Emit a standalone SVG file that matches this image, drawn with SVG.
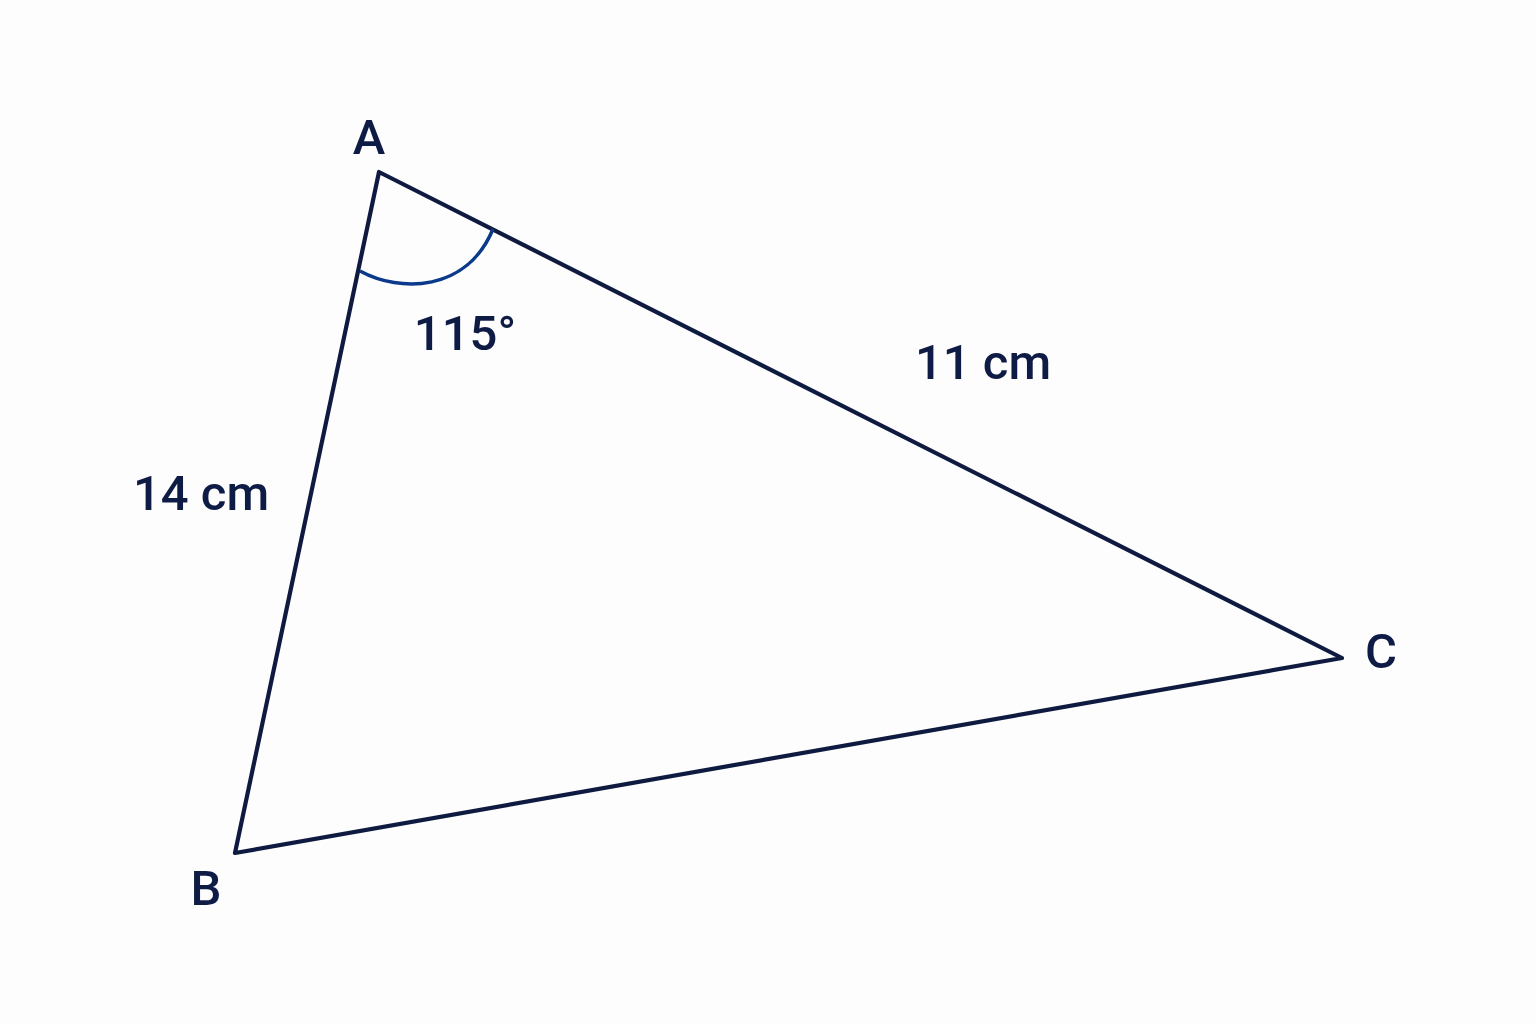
<svg xmlns="http://www.w3.org/2000/svg" width="1536" height="1024" viewBox="0 0 1536 1024">
<style>
.lbl{font-family:Roboto,"Liberation Sans",sans-serif;font-size:49px;font-weight:500;fill:#0e1c45}
.edge{stroke:#0e1a40;stroke-width:4.2;fill:none;stroke-linecap:round;stroke-linejoin:round}
.arc{stroke:#0b3a8c;stroke-width:3.5;fill:none}
</style>
<rect width="1536" height="1024" fill="#fdfdfd"/>
<g id="connectors">
<path class="edge" d="M379,172 L235,853 L1342,658 Z"/>
</g>
<g id="angleA"><path class="arc" d="M360,271 C400,293 467,292 493,229"/><text class="lbl" x="465" y="350" text-anchor="middle" font-size="48">115°</text></g>
<g id="nodeA"><text class="lbl" x="369" y="154" text-anchor="middle">A</text></g>
<g id="nodeB"><text class="lbl" x="206" y="905" text-anchor="middle">B</text></g>
<g id="nodeC"><text class="lbl" x="1381" y="668" text-anchor="middle">C</text></g>
<g id="labelAB"><text class="lbl" x="201" y="510" text-anchor="middle" font-size="45.5">14 cm</text></g>
<g id="labelAC"><text class="lbl" x="983" y="379" text-anchor="middle" font-size="45.5">11 cm</text></g>
</svg>
